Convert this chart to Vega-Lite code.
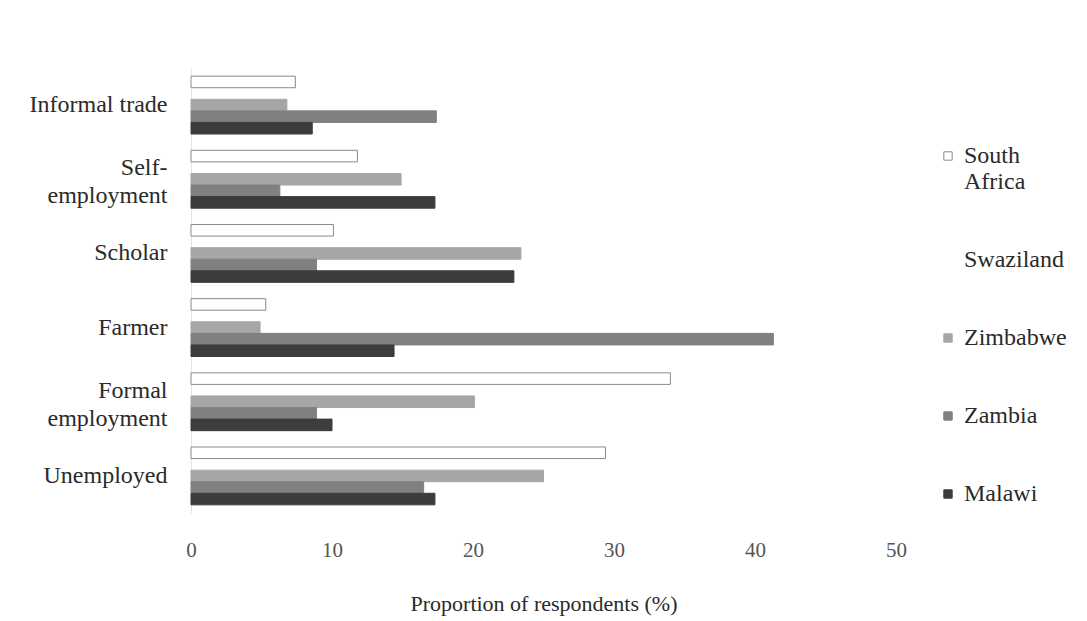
{
  "$schema": "https://vega.github.io/schema/vega-lite/v6.json",
  "width": 705,
  "height": 445,
  "autosize": {"type": "none"},
  "padding": {"left": 191, "top": 68, "right": 191, "bottom": 108},
  "background": "#ffffff",
  "config": {
    "view": {"stroke": null},
    "font": "Liberation Serif"
  },
  "data": {
    "values": [
      {"occupation": "Informal trade", "country": "South Africa", "pct": 7.4},
      {"occupation": "Informal trade", "country": "Zimbabwe", "pct": 6.8},
      {"occupation": "Informal trade", "country": "Zambia", "pct": 17.4},
      {"occupation": "Informal trade", "country": "Malawi", "pct": 8.6},
      {"occupation": "Self-employment", "country": "South Africa", "pct": 11.8},
      {"occupation": "Self-employment", "country": "Zimbabwe", "pct": 14.9},
      {"occupation": "Self-employment", "country": "Zambia", "pct": 6.3},
      {"occupation": "Self-employment", "country": "Malawi", "pct": 17.3},
      {"occupation": "Scholar", "country": "South Africa", "pct": 10.1},
      {"occupation": "Scholar", "country": "Zimbabwe", "pct": 23.4},
      {"occupation": "Scholar", "country": "Zambia", "pct": 8.9},
      {"occupation": "Scholar", "country": "Malawi", "pct": 22.9},
      {"occupation": "Farmer", "country": "South Africa", "pct": 5.3},
      {"occupation": "Farmer", "country": "Zimbabwe", "pct": 4.9},
      {"occupation": "Farmer", "country": "Zambia", "pct": 41.3},
      {"occupation": "Farmer", "country": "Malawi", "pct": 14.4},
      {"occupation": "Formal employment", "country": "South Africa", "pct": 34.0},
      {"occupation": "Formal employment", "country": "Zimbabwe", "pct": 20.1},
      {"occupation": "Formal employment", "country": "Zambia", "pct": 8.9},
      {"occupation": "Formal employment", "country": "Malawi", "pct": 10.0},
      {"occupation": "Unemployed", "country": "South Africa", "pct": 29.4},
      {"occupation": "Unemployed", "country": "Zimbabwe", "pct": 25.0},
      {"occupation": "Unemployed", "country": "Zambia", "pct": 16.5},
      {"occupation": "Unemployed", "country": "Malawi", "pct": 17.3}
    ]
  },
  "mark": {"type": "bar", "strokeWidth": 1},
  "encoding": {
    "y": {
      "field": "occupation",
      "type": "nominal",
      "sort": ["Informal trade", "Self-employment", "Scholar", "Farmer", "Formal employment", "Unemployed"],
      "scale": {"paddingInner": 0.22, "paddingOuter": 0.11},
      "axis": {
        "title": null,
        "ticks": false,
        "domain": true,
        "domainColor": "#e4e4e4",
        "labelFontSize": 24,
        "labelColor": "#2a2a2a",
        "labelPadding": 24,
        "labelLimit": 300,
        "labelLineHeight": 28,
        "labelOffset": {
          "condition": {"test": "datum.value == 'Self-employment' || datum.value == 'Formal employment'", "value": -11},
          "value": 0
        },
        "labelExpr": "datum.label == 'Self-employment' ? ['Self-', 'employment'] : datum.label == 'Formal employment' ? ['Formal', 'employment'] : datum.label"
      }
    },
    "yOffset": {
      "field": "country",
      "type": "nominal",
      "scale": {"domain": ["South Africa", "Swaziland", "Zimbabwe", "Zambia", "Malawi"], "paddingInner": 0}
    },
    "x": {
      "field": "pct",
      "type": "quantitative",
      "scale": {"domain": [0, 50], "nice": false},
      "axis": {
        "title": "Proportion of respondents (%)",
        "titleFontSize": 22,
        "titleFontWeight": "normal",
        "titleColor": "#2a2a2a",
        "titlePadding": 33,
        "values": [0, 10, 20, 30, 40, 50],
        "grid": false,
        "ticks": false,
        "domain": false,
        "labelFlush": false,
        "labelFontSize": 21,
        "labelColor": "#555555",
        "labelPadding": 26
      }
    },
    "color": {
      "field": "country",
      "type": "nominal",
      "scale": {
        "domain": ["South Africa", "Swaziland", "Zimbabwe", "Zambia", "Malawi"],
        "range": ["#ffffff", "#ffffff", "#a6a6a6", "#808080", "#3c3c3c"]
      },
      "legend": {
        "title": null,
        "orient": "none",
        "legendX": 745,
        "legendY": 76,
        "symbolType": "square",
        "symbolSize": 70,
        "symbolStrokeWidth": 1,
        "labelFontSize": 24,
        "labelColor": "#2a2a2a",
        "labelLineHeight": 27,
        "labelLimit": 200,
        "rowPadding": 54,
        "labelOffset": 4,
        "labelExpr": "datum.label == 'South Africa' ? ['South', 'Africa'] : datum.label"
      }
    },
    "stroke": {
      "field": "country",
      "type": "nominal",
      "scale": {
        "domain": ["South Africa", "Swaziland", "Zimbabwe", "Zambia", "Malawi"],
        "range": ["#8a8a8a", "#ffffff", "#a6a6a6", "#808080", "#3c3c3c"]
      }
    }
  }
}
